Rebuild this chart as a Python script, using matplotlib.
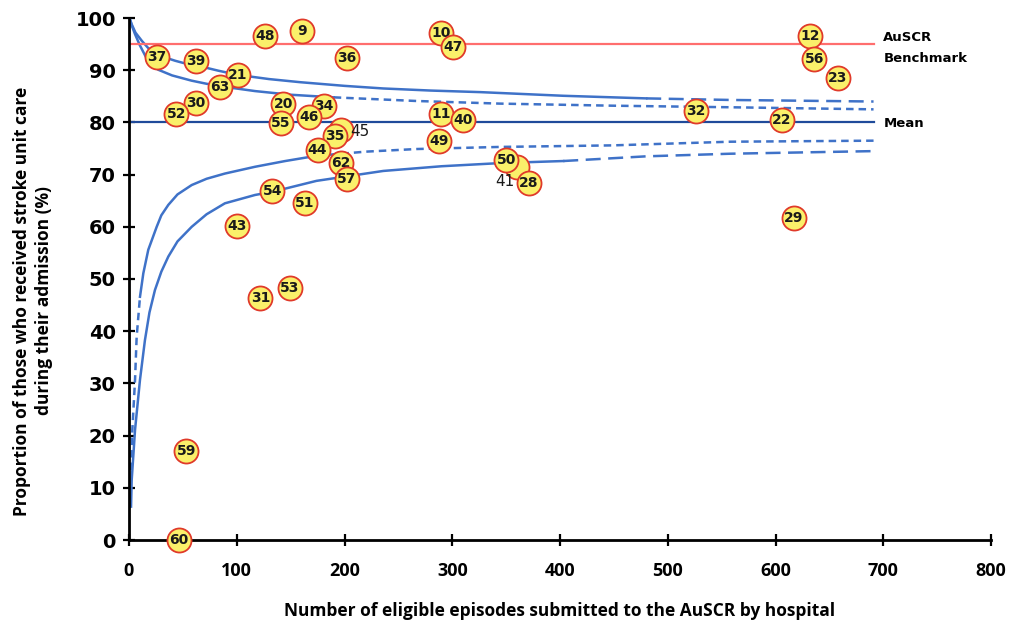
import matplotlib
matplotlib.use("Agg")
import matplotlib.pyplot as plt

# ---- data ----
hospital_ids = ["48", "9", "10", "47", "12", "56", "23", "37", "39", "36", "21", "63",
                "30", "52", "20", "55", "34", "46", "45", "35", "44", "62", "57", "54",
                "51", "43", "31", "53", "59", "60", "11", "40", "49", "41", "50", "28",
                "32", "22", "29"]
episodes = [126, 161, 290, 301, 632, 636, 658, 26, 62, 202, 101, 84,
            62, 44, 143, 141, 181, 167, 197, 191, 175, 197, 202, 133,
            163, 100, 122, 149, 53, 46, 290, 310, 288, 360, 350, 371,
            526, 606, 617]
proportion = [96.5, 97.5, 97.2, 94.5, 96.5, 92.2, 88.6, 92.6, 91.8, 92.3, 89.0, 86.7,
              83.7, 81.7, 83.5, 79.9, 83.1, 81.1, 78.6, 77.4, 74.8, 72.3, 69.1, 66.8,
              64.5, 60.1, 46.4, 48.2, 17.1, 0.0, 81.6, 80.4, 76.5, 71.4, 72.8, 68.3,
              82.1, 80.4, 61.6]
outside_labels = ["45", "41"]

mean_value = 80.0
benchmark_value = 95.0

upper_outer_n = [0.5, 2.5, 6, 12, 18, 26, 34, 43, 52, 63, 83, 101, 130, 159, 200, 236, 280, 326, 403, 480, 558, 691]
upper_outer_v = [100, 98.8, 97.2, 95.6, 94.2, 93.1, 92.4, 91.8, 91.3, 90.9, 89.9, 89.1, 88.3, 87.7, 87.0, 86.5, 86.1, 85.8, 85.1, 84.6, 84.3, 84.0]
upper_inner_n = [0.5, 2.5, 5.6, 10, 16, 27, 40, 58, 72, 89, 117, 150, 190, 267, 344, 449, 558, 691]
upper_inner_v = [100, 98.6, 96.9, 94.8, 92.4, 90.1, 89.0, 88.0, 87.4, 86.8, 86.0, 85.3, 84.8, 84.1, 83.6, 83.2, 82.9, 82.5]
lower_inner_n = [1.9, 3.1, 5.6, 7.1, 10.2, 13.3, 17.9, 25.7, 30, 36.5, 45, 58.2, 72, 89, 117, 145, 174, 220, 267, 344, 449, 558, 691]
lower_inner_v = [13.4, 21.1, 30.7, 38.9, 46.6, 51.1, 55.6, 60.0, 62.2, 64.2, 66.2, 68.0, 69.2, 70.2, 71.5, 72.6, 73.6, 74.4, 74.9, 75.3, 75.6, 76.3, 76.5]
lower_outer_n = [1.9, 2.5, 5.6, 10.2, 14.8, 19, 24.1, 30, 36.5, 45, 58.2, 72, 89, 117, 133, 174, 236, 290, 344, 403, 480, 558, 691]
lower_outer_v = [6.4, 11.5, 21.1, 30.7, 38.3, 43.6, 47.9, 51.4, 54.3, 57.2, 60.0, 62.4, 64.5, 66.1, 66.7, 68.8, 70.7, 71.6, 72.2, 72.6, 73.5, 74.0, 74.5]

x_ticks = [0, 100, 200, 300, 400, 500, 600, 700, 800]
y_ticks = [0, 10, 20, 30, 40, 50, 60, 70, 80, 90, 100]
line_end = 691

# ---- figure ----
fig = plt.figure(figsize=(10.11, 6.26), dpi=100)
ax = fig.add_axes([129 / 1011, 86 / 626, 862 / 1011, 522 / 626])
ax.set_xlim(0, 800)
ax.set_ylim(0, 100)

blue = "#3F72C8"
navy = "#1F4A9A"
red = "#FF6E6E"


def split_draw(ns, vs, cut_lo, cut_hi, dash):
    # solid between cut_lo and cut_hi, dashed outside
    seg_a = [(n, v) for n, v in zip(ns, vs) if n <= cut_lo]
    seg_b = [(n, v) for n, v in zip(ns, vs) if cut_lo <= n <= cut_hi]
    seg_c = [(n, v) for n, v in zip(ns, vs) if n >= cut_hi]
    if len(seg_a) > 1:
        ax.plot(*zip(*seg_a), color=blue, lw=1.8, dashes=dash, zorder=2)
    if len(seg_b) > 1:
        ax.plot(*zip(*seg_b), color=blue, lw=1.8, zorder=2, solid_joinstyle="round")
    if len(seg_c) > 1:
        ax.plot(*zip(*seg_c), color=blue, lw=1.8, dashes=dash, zorder=2)


split_draw(upper_outer_n, upper_outer_v, 0, 480, (6, 3))
split_draw(upper_inner_n, upper_inner_v, 0, 190, (3, 2))
split_draw(lower_inner_n, lower_inner_v, 10.2, 174, (3, 2))
split_draw(lower_outer_n, lower_outer_v, 0, 403, (6, 3))

ax.plot([0, line_end], [benchmark_value, benchmark_value], color=red, lw=1.6, zorder=2)
ax.plot([0, line_end], [mean_value, mean_value], color=navy, lw=1.6, zorder=2)

z = 5
for hid, n, v in zip(hospital_ids, episodes, proportion):
    ax.scatter([n], [v], s=300, facecolor="#FAF06A", edgecolor="#E03A2A", linewidth=1.3,
               zorder=z, clip_on=False)
    if hid not in outside_labels:
        ax.text(n, v, hid, ha="center", va="center", fontsize=10, fontweight="bold",
                color="#1A1A1A", zorder=z + 1, family="DejaVu Sans")
    z += 2

ax.text(197 + 8, 78.6 - 0.3, "45", ha="left", va="center", fontsize=11,
        color="#1A1A1A", zorder=200, family="DejaVu Sans")
ax.text(349, 68.6, "41", ha="center", va="center", fontsize=11,
        color="#1A1A1A", zorder=200, family="DejaVu Sans")

tfont = dict(fontsize=9.5, fontweight="bold", family="DejaVu Sans")
ax.text(700, 96.3, "AuSCR", ha="left", va="center", **tfont)
ax.text(700, 92.2, "Benchmark", ha="left", va="center", **tfont)
ax.text(700, 79.7, "Mean", ha="left", va="center", **tfont)

for s in ["top", "right"]:
    ax.spines[s].set_visible(False)
for s in ["left", "bottom"]:
    ax.spines[s].set_linewidth(2.0)
    ax.spines[s].set_color("black")

ax.set_xticks(x_ticks)
ax.set_yticks(y_ticks)
ax.set_xticklabels([str(t) for t in x_ticks], fontsize=13, fontweight="bold", family="Open Sans")
ax.set_yticklabels([str(t) for t in y_ticks], fontsize=14, fontweight="bold", family="DejaVu Sans")
ax.tick_params(axis="both", direction="inout", length=9, width=1.6, color="black")
ax.tick_params(axis="x", pad=11)
ax.tick_params(axis="y", pad=5)

ax.set_xlabel("Number of eligible episodes submitted to the AuSCR by hospital",
              fontsize=12.5, fontweight="bold", family="Open Sans", labelpad=16)
ax.set_ylabel("Proportion of those who received stroke unit care\nduring their admission (%)",
              fontsize=12.5, fontweight="bold", family="Open Sans", linespacing=1.3)
ax.yaxis.set_label_coords(-0.088, 0.458)

fig.savefig("out.png", dpi=100)
